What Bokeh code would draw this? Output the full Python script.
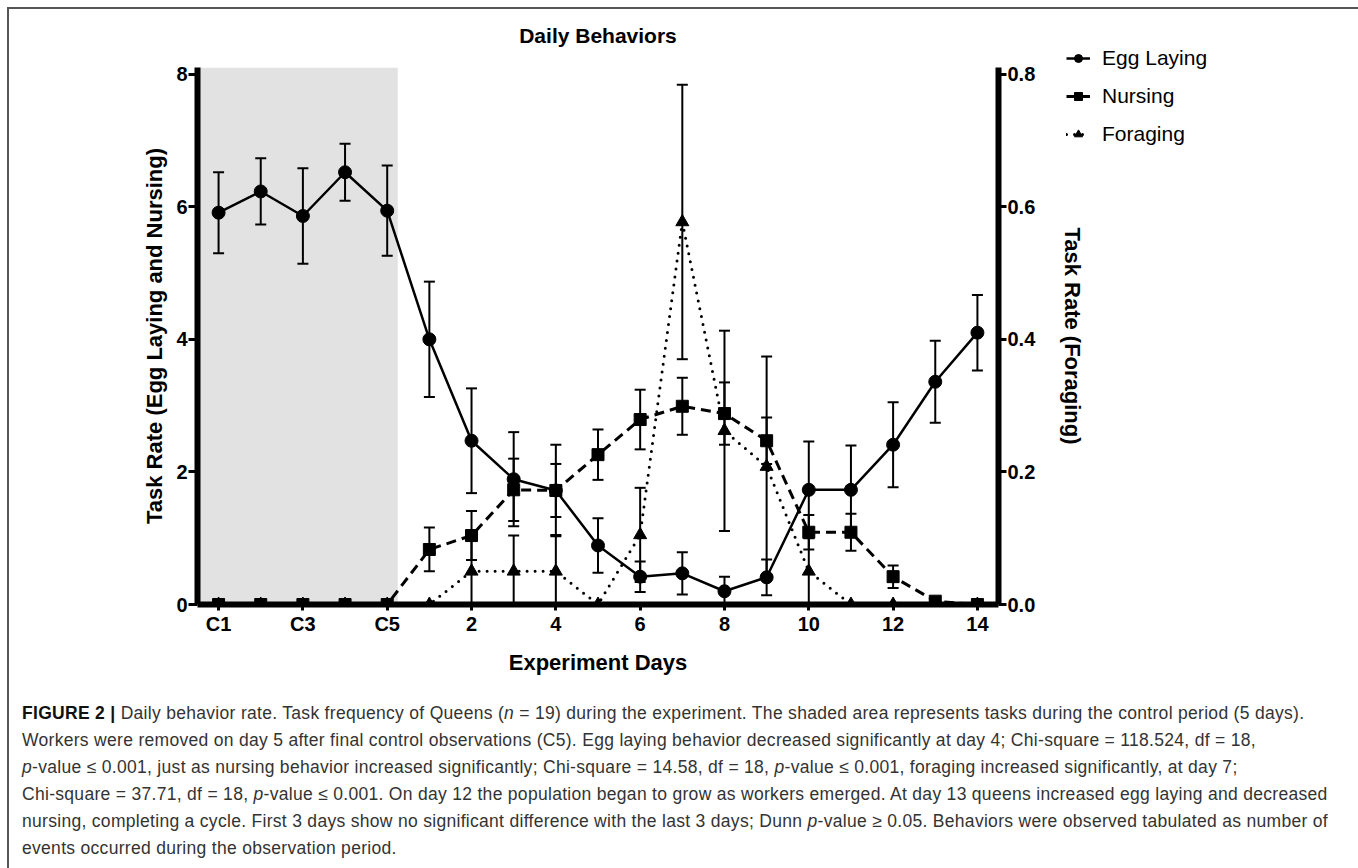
from bokeh.plotting import figure
from bokeh.models import (Range1d, LinearAxis, FixedTicker, NumeralTickFormatter,
                          BoxAnnotation, Legend, LegendItem, Div)
from bokeh.layouts import column
from bokeh.embed import file_html
from bokeh.resources import INLINE

# ---------------- data ----------------
days = ["C1", "C2", "C3", "C4", "C5", "1", "2", "3", "4", "5", "6", "7",
        "8", "9", "10", "11", "12", "13", "14"]
n_control = 5

egg_mean = [5.91, 6.23, 5.86, 6.52, 5.94, 4.00, 2.47, 1.89, 1.72, 0.89, 0.42,
            0.47, 0.20, 0.41, 1.73, 1.73, 2.41, 3.36, 4.10]
egg_err = [0.61, 0.50, 0.72, 0.43, 0.68, 0.87, 0.79, 0.71, 0.69, 0.41, 0.23,
           0.32, 0.22, 0.27, 0.73, 0.67, 0.64, 0.62, 0.57]

nurse_mean = [0, 0, 0, 0, 0, 0.83, 1.04, 1.73, 1.72, 2.26, 2.79, 2.99, 2.88,
              2.47, 1.09, 1.09, 0.42, 0.05, 0.0]
nurse_err = [0, 0, 0, 0, 0, 0.33, 0.37, 0.47, 0.40, 0.38, 0.45, 0.43, 0.47,
             0.35, 0.26, 0.28, 0.17, 0.05, 0.0]

forage_mean = [0, 0, 0, 0, 0, 0, 0.05, 0.05, 0.05, 0, 0.105, 0.577, 0.262,
               0.208, 0.05, 0, 0, 0, 0]
forage_err = [0, 0, 0, 0, 0, 0, 0.055, 0.054, 0.055, 0, 0.071, 0.207, 0.151,
              0.166, 0.055, 0, 0, 0, 0]

series_names = ["Egg Laying", "Nursing", "Foraging"]
left_ticks = [0, 2, 4, 6, 8]
right_ticks = [0.0, 0.2, 0.4, 0.6, 0.8]

xs = [i + 1 for i in range(len(days))]
tick_pos = xs[::2]
tick_labels = days[::2]

FONT = "Liberation Sans"

STYLES = [
    dict(line_width=2.5, line_dash="solid", cap="butt", marker="circle", size=13, lsize=12),
    dict(line_width=3, line_dash="10 6", cap="butt", marker="square", size=12, lsize=11),
    dict(line_width=3, line_dash="0 8", cap="round", marker="triangle", size=13, lsize=14),
]


def bounds(m, e):
    lo = [max(0.0, a - b) for a, b in zip(m, e)]
    hi = [a + b for a, b in zip(m, e)]
    return lo, hi


# ---------------- main figure ----------------
p = figure(width=1344, height=690, x_range=Range1d(0.5, 19.5),
           y_range=Range1d(0, 8.1), output_backend="svg",
           toolbar_location=None, min_border_left=188, min_border_right=355,
           min_border_top=58, min_border_bottom=95, title=None)

p.extra_y_ranges = {"forage": Range1d(0, 0.81)}
p.grid.visible = False
p.outline_line_color = None
p.background_fill_color = "white"

raxis = LinearAxis(y_range_name="forage")
p.add_layout(raxis, "right")

for ax in [p.xaxis[0], p.yaxis[0], raxis]:
    ax.axis_line_width = 6
    ax.axis_line_color = "black"
    ax.major_tick_line_width = 3
    ax.major_tick_line_color = "black"
    ax.major_tick_in = 0
    ax.minor_tick_line_color = None
    ax.major_label_text_font = FONT
    ax.major_label_text_font_style = "bold"
    ax.major_label_text_font_size = "20px"
    ax.major_label_text_color = "black"
    ax.axis_label_text_font = FONT
    ax.axis_label_text_font_style = "bold"
    ax.axis_label_text_font_size = "22px"
    ax.axis_label_text_color = "black"

p.xaxis[0].ticker = FixedTicker(ticks=tick_pos)
p.xaxis[0].major_label_overrides = {t: l for t, l in zip(tick_pos, tick_labels)}
p.xaxis[0].major_tick_out = 6
p.xaxis[0].major_label_standoff = 2
p.xaxis[0].axis_label = "Experiment Days"
p.xaxis[0].axis_label_standoff = 12

p.yaxis[0].ticker = FixedTicker(ticks=left_ticks)
p.yaxis[0].major_tick_out = 9
p.yaxis[0].major_label_standoff = 1
p.yaxis[0].axis_label = "Task Rate (Egg Laying and Nursing)"
p.yaxis[0].axis_label_standoff = 6

raxis.ticker = FixedTicker(ticks=right_ticks)
raxis.formatter = NumeralTickFormatter(format="0.0")
raxis.major_tick_out = 8
raxis.major_label_standoff = 1
raxis.axis_label = "Task Rate (Foraging)"
raxis.axis_label_standoff = 22

# control period shading
p.add_layout(BoxAnnotation(left=0.5, right=n_control + 0.25, bottom=0, top=8.1,
                           fill_color="#e2e2e2", fill_alpha=1, line_color=None,
                           level="underlay"))

all_means = [egg_mean, nurse_mean, forage_mean]
all_errs = [egg_err, nurse_err, forage_err]
range_names = ["default", "default", "forage"]

# lines
for m, rn, st in zip(all_means, range_names, STYLES):
    p.line(xs, m, y_range_name=rn, line_width=st["line_width"],
           line_color="black", line_dash=st["line_dash"], line_cap=st["cap"])

# error bars
for m, e, rn in zip(all_means, all_errs, range_names):
    lo, hi = bounds(m, e)
    p.segment(x0=xs, y0=lo, x1=xs, y1=hi, line_width=2, line_color="black",
              y_range_name=rn)
    p.scatter(xs, hi, marker="dash", size=11, line_width=2, line_color="black",
              y_range_name=rn)
    p.scatter(xs, lo, marker="dash", size=11, line_width=2, line_color="black",
              y_range_name=rn)

# markers (foraging under, then egg, then nursing on top)
for i in [2, 0, 1]:
    st = STYLES[i]
    p.scatter(xs, all_means[i], y_range_name=range_names[i], marker=st["marker"],
              size=st["size"], color="black")

# ---------------- title (overlay) ----------------
title = Div(text="Daily Behaviors", width=400, height=24,
            styles={"position": "absolute", "left": "384px", "top": "10px",
                    "font-family": "Liberation Sans, Arial, sans-serif",
                    "font-size": "21px", "font-weight": "bold",
                    "line-height": "24px", "color": "black",
                    "text-align": "center", "white-space": "nowrap"})

# ---------------- legend (transparent overlay figure) ----------------
# the series are drawn again here, outside the visible range, only to key the legend
lf = figure(width=200, height=115, x_range=Range1d(-10, -9), y_range=Range1d(0, 1),
            output_backend="svg", toolbar_location=None, min_border=0,
            styles={"position": "absolute", "left": "1057px", "top": "37px"})
lf.axis.visible = False
lf.grid.visible = False
lf.outline_line_color = None
lf.background_fill_alpha = 0
lf.border_fill_alpha = 0
items = []
for name, m, st in zip(series_names, all_means, STYLES):
    ln = lf.line(xs, m, line_width=st["line_width"], line_color="black",
                 line_dash=st["line_dash"], line_cap=st["cap"])
    mk = lf.scatter(xs, m, marker=st["marker"], size=st["lsize"], color="black")
    items.append(LegendItem(label=name, renderers=[ln, mk]))
legend = Legend(items=items, location="top_left", glyph_width=24, glyph_height=20,
                label_standoff=12, spacing=14, padding=0, margin=0,
                border_line_color=None, background_fill_alpha=0,
                label_text_font=FONT, label_text_font_size="21px",
                label_text_color="black")
lf.add_layout(legend)

caption_html = (
    '<div style="padding-left:8px;position:relative;top:-4px;">'
    '<b style="color:#111">FIGURE 2 |</b> Daily behavior rate. Task frequency of Queens (<i>n</i> = 19) '
    'during the experiment. The shaded area represents tasks during the control period (5 days).<br>'
    'Workers were removed on day 5 after final control observations (C5). Egg laying behavior '
    'decreased significantly at day 4; Chi-square = 118.524, df = 18,<br>'
    '<i>p</i>-value \u2264 0.001, just as nursing behavior increased significantly; Chi-square = 14.58, '
    'df = 18, <i>p</i>-value \u2264 0.001, foraging increased significantly, at day 7;<br>'
    'Chi-square = 37.71, df = 18, <i>p</i>-value \u2264 0.001. On day 12 the population began to grow '
    'as workers emerged. At day 13 queens increased egg laying and decreased<br>'
    'nursing, completing a cycle. First 3 days show no significant difference with the last 3 days; '
    'Dunn <i>p</i>-value \u2265 0.05. Behaviors were observed tabulated as number of<br>'
    'events occurred during the observation period.'
    '</div>'
)
cap = Div(text=caption_html, width=1344, height=168,
          styles={"font-family": "Liberation Sans, Arial, sans-serif",
                  "font-size": "17.5px", "letter-spacing": "0.3px",
                  "line-height": "27px", "color": "#333",
                  "white-space": "nowrap"})

lay = column(p, cap, title, lf, styles={"border-top": "2px solid #555",
                                        "border-left": "2px solid #555",
                                        "border-right": "2px solid #555",
                                        "margin-left": "7px", "margin-top": "7px",
                                        "position": "relative"})

open("out.html", "w").write(file_html(lay, INLINE))
